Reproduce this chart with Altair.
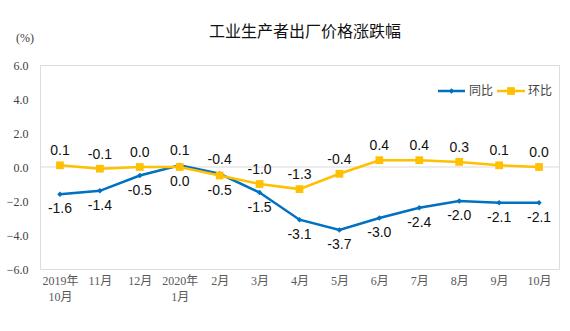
import altair as alt
import pandas as pd

months = ["2019年\n10月", "11月", "12月", "2020年\n1月", "2月", "3月", "4月",
          "5月", "6月", "7月", "8月", "9月", "10月"]
yoy = [-1.6, -1.4, -0.5, 0.1, -0.4, -1.5, -3.1, -3.7, -3.0, -2.4, -2.0, -2.1, -2.1]
mom = [0.1, -0.1, 0.0, 0.0, -0.5, -1.0, -1.3, -0.4, 0.4, 0.4, 0.3, 0.1, 0.0]
series = ["同比", "环比"]
colors = ["#0070C0", "#FFC000"]

rows = []
for i, m in enumerate(months):
    for s, vals, other in (("同比", yoy, mom), ("环比", mom, yoy)):
        v = vals[i]
        o = other[i]
        if v > o:
            above = True
        elif v < o:
            above = False
        else:
            above = s == "环比"
        rows.append({"month": m, "series": s, "value": v,
                     "label": f"{v:.1f}", "above": above})
df = pd.DataFrame(rows)

W, H = 519, 204
xenc = alt.X("month:N", sort=months, scale=alt.Scale(paddingInner=0, paddingOuter=0),
             axis=alt.Axis(title=None, labelAngle=0, labelExpr="split(datum.label, '\\n')",
                           labelFont="Liberation Serif, Noto Sans CJK SC", labelFontSize=12,
                           labelColor="#595959", labelPadding=6, labelLineHeight=16,
                           ticks=False, domain=False))
yscale = alt.Scale(domain=[-6, 6])
yaxis = alt.Axis(title=None, values=[-6, -4, -2, 0, 2, 4, 6], format=".1f",
                 labelFont="Liberation Serif, Noto Sans CJK SC", labelFontSize=12,
                 labelColor="#404040", labelPadding=12, grid=False, ticks=False,
                 domain=False)
yenc = alt.Y("value:Q", scale=yscale, axis=yaxis)
color = alt.Color("series:N", scale=alt.Scale(domain=series, range=colors), legend=None)

base = alt.Chart(df)

zero = alt.Chart(pd.DataFrame({"z": [0]})).mark_rule(color="#d9d9d9", strokeWidth=1).encode(
    y=alt.Y("z:Q", scale=yscale, axis=yaxis))

lines = base.mark_line(strokeWidth=2.5).encode(x=xenc, y=yenc, color=color)

pts_y = base.transform_filter(alt.datum.series == "同比").mark_point(
    shape="diamond", filled=True, size=30, opacity=1, color=colors[0]).encode(x=xenc, y=yenc)
pts_m = base.transform_filter(alt.datum.series == "环比").mark_point(
    shape="square", filled=True, size=60, opacity=1, color=colors[1]).encode(x=xenc, y=yenc)

lab_up = base.transform_filter(alt.datum.above == True).mark_text(
    dy=-14, font="Liberation Sans", fontSize=14, color="#111").encode(
    x=xenc, y=yenc, text="label:N")
lab_dn = base.transform_filter(alt.datum.above == False).mark_text(
    dy=15, font="Liberation Sans", fontSize=14, color="#111").encode(
    x=xenc, y=yenc, text="label:N")

# legend
leg = pd.DataFrame({"series": series, "x0": [398, 457], "x1": [425, 485],
                    "xm": [411.5, 471], "xt": [429, 488]})
lb = alt.Chart(leg)
leg_line = lb.mark_rule(strokeWidth=2.5).encode(
    x=alt.X("x0:Q", scale=None), x2="x1:Q", y=alt.value(26), color=color)
leg_pt = lb.mark_point(filled=True, opacity=1).encode(
    x=alt.X("xm:Q", scale=None), y=alt.value(26), color=color,
    shape=alt.Shape("series:N", scale=alt.Scale(domain=series, range=["diamond", "square"]),
                    legend=None),
    size=alt.Size("series:N", scale=alt.Scale(domain=series, range=[30, 60]), legend=None))
leg_txt = lb.mark_text(align="left", baseline="middle", font="Noto Sans CJK SC",
                       fontSize=12, color="#404040").encode(
    x=alt.X("xt:Q", scale=None), y=alt.value(26), text="series:N")

title = alt.Chart(pd.DataFrame({"t": ["工业生产者出厂价格涨跌幅"]})).mark_text(
    font="Noto Sans CJK SC", fontSize=16, color="#111", baseline="middle").encode(
    x=alt.value(265), y=alt.value(-33), text="t:N")
unit = alt.Chart(pd.DataFrame({"t": ["(%)"]})).mark_text(
    font="Liberation Serif", fontSize=12, color="#404040", baseline="middle").encode(
    x=alt.value(-15), y=alt.value(-27), text="t:N")

chart = alt.layer(zero, lines, pts_y, pts_m, lab_up, lab_dn,
                  leg_line, leg_pt, leg_txt, title, unit).properties(
    width=W, height=H, padding={"left": 40, "top": 65, "right": 11, "bottom": 62},
    autosize=alt.AutoSizeParams(type="none")
).configure_view(stroke="#d9d9d9", strokeWidth=1).configure(background="white")

chart.save("out.html", embed_options={"renderer": "svg", "actions": False})
